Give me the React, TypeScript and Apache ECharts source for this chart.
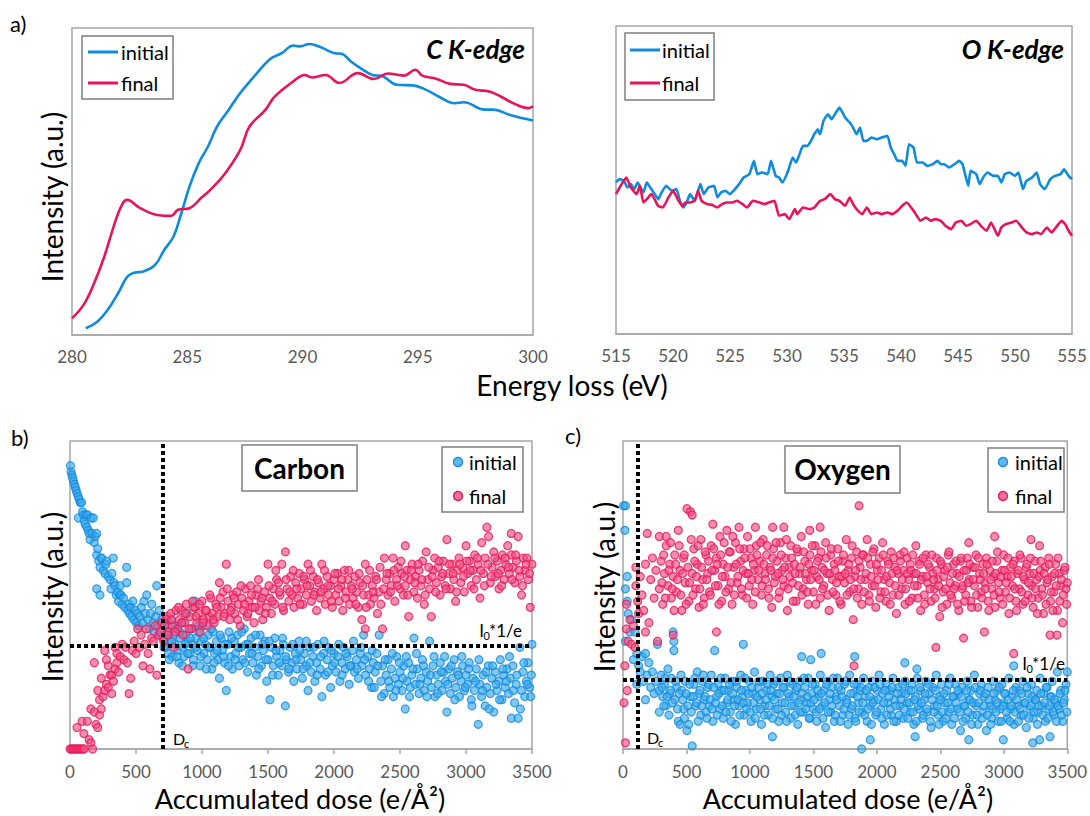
import React, { useEffect, useRef } from "react";
import * as echarts from "echarts";

// ---------- DATA ----------
// a) C K-edge spectra: [energy loss (eV), intensity (a.u., 0-100 of panel)]
const CK_INITIAL = [[280.6,2.2],[281.1,4.3],[281.55,8.2],[282.0,13.6],[282.4,19],[282.7,20.3],[283.1,20.7],[283.6,22.8],[284.0,27.7],[284.4,32],[284.7,38.6],[285.1,48.4],[285.5,56],[285.9,61.4],[286.3,68],[286.8,73.4],[287.3,78.8],[287.9,84.2],[288.6,89.9],[289.1,91.8],[289.6,94.3],[289.9,94],[290.3,94.8],[290.8,93.7],[291.4,91.8],[291.7,91.6],[292.1,89.1],[292.5,87],[293.0,84.8],[293.5,84.2],[294.1,81.5],[294.8,81.3],[295.3,80.1],[295.9,77.7],[296.6,75.5],[297.0,75.8],[297.9,73.4],[298.3,73.4],[299.0,71.7],[300,69.9]];
const CK_FINAL = [[280,5.4],[280.5,9.8],[280.9,15.8],[281.4,25.5],[281.9,37.5],[282.2,42.9],[282.4,44],[282.9,41.6],[283.7,39.1],[284.3,38.8],[284.6,40.8],[285.1,41.3],[285.6,44.6],[286.0,47.3],[286.6,52.2],[287.3,60.3],[287.7,67.9],[288.4,73.4],[288.8,77.7],[289.6,82.6],[290.1,84.7],[290.4,83.9],[291.0,84.7],[291.6,82.1],[292.4,85.3],[293.1,83.4],[293.7,85.2],[294.4,84.5],[294.9,86.4],[295.2,84.5],[295.8,83.5],[296.4,81.8],[297.0,81.5],[297.5,79.9],[298.1,79.3],[298.6,77.7],[299.2,75.3],[299.8,73.9],[300,74.5]];

// a) O K-edge spectra: [energy loss (eV), intensity (a.u.)]
const OK_INITIAL = [[515.0,455],[515.3,465],[515.7,460],[516.0,440],[516.3,450],[516.6,435],[516.9,455],[517.4,425],[517.7,455],[518.0,440],[518.4,420],[518.7,405],[519.0,425],[519.4,445],[519.9,430],[520.3,435],[520.6,400],[520.9,380],[521.2,395],[521.5,420],[521.9,400],[522.4,450],[522.7,420],[523.1,440],[523.6,445],[523.9,410],[524.2,425],[524.6,430],[525.0,420],[525.3,430],[525.8,450],[526.2,470],[526.7,480],[527.1,520],[527.4,480],[527.8,485],[528.3,480],[528.6,520],[529.0,475],[529.3,470],[529.6,455],[530.1,490],[530.5,530],[530.8,515],[531.1,540],[531.4,565],[531.8,565],[532.1,580],[532.4,600],[532.7,615],[532.9,600],[533.2,640],[533.6,660],[533.9,645],[534.2,660],[534.6,680],[535.1,650],[535.5,635],[535.8,620],[536.1,600],[536.4,620],[536.7,580],[537.0,580],[537.4,590],[537.9,585],[538.3,590],[538.8,595],[539.1,560],[539.4,540],[539.7,520],[540.1,520],[540.4,505],[540.7,570],[541.1,560],[541.4,515],[541.9,515],[542.3,505],[542.8,510],[543.2,520],[543.5,510],[543.8,510],[544.2,500],[544.7,510],[545.1,520],[545.4,510],[545.9,445],[546.1,490],[546.6,480],[546.9,450],[547.2,470],[547.6,485],[548.1,475],[548.5,475],[548.8,455],[549.1,480],[549.5,485],[550.0,475],[550.3,485],[550.7,435],[551.0,460],[551.5,470],[551.9,485],[552.2,450],[552.6,435],[553.1,465],[553.5,475],[554.0,480],[554.3,495],[554.7,475],[555.0,465]];
const OK_FINAL = [[515.0,420],[515.4,445],[515.9,470],[516.3,440],[516.8,420],[517.1,445],[517.4,395],[517.7,405],[518.1,420],[518.7,385],[519.1,380],[519.6,410],[520.0,430],[520.5,400],[520.8,385],[521.1,395],[521.5,395],[521.9,400],[522.2,430],[522.5,400],[523.0,390],[523.4,388],[523.9,380],[524.3,390],[524.7,395],[525.2,395],[525.6,400],[526.1,390],[526.5,380],[527.0,400],[527.6,395],[528.0,390],[528.4,395],[528.9,400],[529.3,355],[529.8,360],[530.2,345],[530.7,375],[530.9,360],[531.4,380],[532.0,375],[532.4,380],[532.9,400],[533.3,405],[533.8,420],[534.2,405],[534.6,400],[535.1,385],[535.5,410],[535.8,390],[536.1,375],[536.6,360],[537.0,380],[537.4,360],[537.9,365],[538.3,360],[538.8,365],[539.2,360],[539.7,370],[540.1,385],[540.5,395],[541.0,375],[541.3,360],[541.7,340],[542.2,350],[542.6,340],[543.0,345],[543.5,340],[543.9,325],[544.4,315],[544.8,335],[545.3,340],[545.7,325],[546.1,330],[546.6,340],[547.0,325],[547.5,310],[547.9,335],[548.5,295],[548.8,320],[549.2,330],[549.7,335],[550.1,340],[550.6,320],[551.0,305],[551.5,300],[551.9,305],[552.3,300],[552.8,320],[553.2,305],[553.7,325],[554.1,340],[554.4,330],[554.7,310],[555.0,295]];

// b) Carbon: [accumulated dose (e/Å²), intensity (a.u., 0-100)]
const C_INITIAL = [[3,92],[8,90],[14,89],[20,88],[26,87],[33,86],[40,85],[47,84],[54,83],[62,82],[70,81],[78,80],[63,75],[88,80],[95,77],[101,76],[108,74],[115,73],[120,76],[128,72],[135,76],[139,71],[146,70],[152,68],[160,75],[166,70],[177,75],[184,67],[190,69],[202,70],[202,63],[202,52],[210,65],[218,61],[227,59],[227,50],[234,62],[240,62],[252,58],[265,57],[272,60],[278,61],[290,56],[303,55],[310,52],[318,57],[328,62],[334,54],[341,53],[350,50],[360,51],[368,48],[379,53],[379,50],[386,50],[395,47],[405,49],[415,46],[429,54],[429,59],[438,45],[446,47],[452,44],[460,46],[468,43],[476,48],[485,42],[494,45],[503,41],[512,44],[520,40],[530,43],[540,46],[550,41],[560,48],[570,44],[581,50],[590,42],[600,39],[610,44],[620,47],[630,41],[640,38],[650,43],[657,53],[665,40],[675,45],[685,37],[695,42],
[705,36],[715,40],[725,33],[735,38],[745,31],[755,35],[765,42],[775,30],[785,37],[795,34],[805,39],[815,32],[825,28],[835,36],[845,41],[855,33],[865,30],[875,37],[885,44],[895,35],[905,31],[915,39],[925,34],[935,29],[947,48],[955,36],[965,32],[975,38],[985,27],[995,35],[1005,40],[1015,31],[1025,34],[1040,29],[1050,37],[1060,33],[1075,26],[1085,38],[1095,31],[1110,35],[1120,29],[1132,23],[1145,36],[1155,32],[1170,28],[1184,19],[1195,34],[1205,38],[1220,30],[1230,26],[1245,35],[1255,31],[1270,37],[1280,27],[1295,33],[1310,29],[1320,39],[1335,34],[1345,25],[1360,31],[1372,36],[1385,28],[1400,33],[1412,24],[1425,30],[1440,37],[1450,27],[1465,32],[1478,35],[1490,22],[1500,29],[1515,16],[1525,33],[1540,27],[1552,36],[1565,30],[1578,24],[1590,32],[1605,27],[1615,34],[1632,14],[1640,29],[1655,25],[1668,33],[1680,28],[1695,22],[1708,31],[1720,26],[1735,35],[1748,29],[1760,23],[1775,31],[1790,27],[1803,19],[1815,33],[1828,25],[1840,30],[1855,22],[1868,28],[1880,34],[1895,26],[1908,17],[1920,31],[1935,24],[1948,29],[1960,33],[1974,20],[1988,27],[2000,31],[2015,25],[2030,30],[2045,22],[2060,28],[2072,33],[2085,26],[2100,30],[2115,21],[2128,27],[2140,32],[2155,25],[2170,29],[2185,23],[2200,31],[2212,27],[2224,37],[2240,24],[2255,30],[2270,26],[2285,20],[2298,28],
[712,33],[731,41],[752,29],[771,35],[792,40],[811,30],[832,38],[852,27],[871,34],[892,31],[912,36],[931,27],[952,33],[972,40],[992,30],[1012,36],[1032,26],[1055,33],[1072,39],[1092,28],[1115,32],[1138,37],[1162,30],[1178,34],[1200,27],[1225,36],[1250,29],[1275,33],[1300,38],[1325,28],[1350,34],[1378,31],[1405,37],[1430,26],[1458,34],[1485,29],[1510,35],[1535,24],[1560,32],[1585,28],[1610,36],[1635,30],[1660,26],[1688,34],[1712,29],[1740,32],[1765,26],[1790,35],[1818,28],[1845,33],[1872,24],[1900,30],[1925,35],[1952,25],[1980,32],[2005,28],[2035,34],[2062,24],[2090,31],[2120,27],[2148,35],[2175,26],[2205,33],[2232,29],[2262,22],[2290,32],
[2312,25],[2325,31],[2342,37],[2355,22],[2368,27],[2380,18],[2395,24],[2410,29],[2422,20],[2435,26],[2450,17],[2462,23],[2475,30],[2488,21],[2500,25],[2515,19],[2528,27],[2540,13],[2552,22],[2565,28],[2578,20],[2590,24],[2606,36],[2618,21],[2630,26],[2645,18],[2658,23],[2670,29],[2685,19],[2698,25],[2710,22],[2724,35],[2738,20],[2750,27],[2765,17],[2778,24],[2790,21],[2805,28],[2818,19],[2830,25],[2845,22],[2855,12],[2870,26],[2882,18],[2895,23],[2910,29],[2922,20],[2935,25],[2950,17],[2962,22],[2975,27],[2988,19],[3000,24],[3012,21],[3025,28],[3040,16],[3052,23],[3065,19],[3078,26],[3093,8],[3105,21],[3118,17],[3130,24],[3145,14],[3158,20],[3170,27],[3184,18],[3196,23],[3210,12],[3222,25],[3235,19],[3248,22],[3260,29],[3272,16],[3285,24],[3298,20],[3310,26],[3322,18],[3335,23],[3343,10],[3355,27],[3368,15],[3380,21],[3395,10],[3408,33],[3420,19],[3432,25],[3445,17],[3458,22],[3470,28],[3482,20],[3495,24],[3500,34],
[2305,20],[2332,27],[2360,17],[2388,29],[2415,22],[2442,31],[2470,19],[2495,28],[2522,23],[2548,30],[2572,17],[2598,26],[2625,31],[2650,21],[2678,27],[2704,17],[2730,24],[2758,30],[2785,18],[2812,25],[2838,30],[2862,21],[2888,27],[2915,16],[2942,24],[2968,30],[2995,20],[3020,26],[3045,14],[3072,22],[3098,29],[3125,19],[3150,25],[3176,13],[3202,27],[3228,21],[3254,16],[3280,26],[3306,22],[3330,30],[3358,19],[3385,24],[3412,13],[3438,28],[3465,21],[3490,17]];
const C_FINAL = [[0,0],[12,0],[24,0],[36,0],[48,0],[60,0],[72,0],[84,0],[96,0],[108,0],[53,7],[92,9],[105,5],[131,9],[145,3],[158,2],[171,0],[158,13],[184,12],[197,8],[210,7],[224,11],[237,13],[210,19],[224,16],[250,17],[263,19],[237,23],[276,21],[290,20],[303,24],[316,18],[316,24],[329,22],[342,26],[355,28],[368,25],[184,28],[263,32],[276,29],[290,27],[342,33],[355,31],[381,30],[395,34],[408,29],[421,33],[434,28],[447,18],[460,23],[473,32],[486,35],[500,31],[513,39],[526,33],[539,37],[553,27],[566,34],[579,39],[592,31],[605,26],[618,36],[632,35],[645,40],[658,24],[671,37],[684,38],[697,41],[710,35],[724,42],[737,43],[750,38],[763,44],[776,40],[790,33],[803,45],[816,39],[829,42],[842,45],[855,37],[868,41],[882,47],[895,26],[908,43],[921,39],[934,46],[947,46],[960,41],[973,44],[986,38],[1000,48],[1013,42],[1026,45],[1039,40],[1053,43],[1066,49],[1079,44],[1092,41],[1105,47],[1118,43],[1132,54],[1145,46],[1158,51],[1171,44],[1184,60],[1197,48],[1210,42],[1223,46],[1236,50],[1250,44],[1263,51],[1276,47],[1289,40],[1302,49],[1315,45],[1328,52],[1342,43],[1355,48],[1368,53],[1381,46],[1394,41],[1408,50],[1421,52],[1434,45],[1447,48],[1460,42],[1474,51],[1487,46],[1500,60],[1513,49],[1526,44],[1539,52],[1552,47],[1565,55],[1579,54],[1592,50],[1605,60],[1618,45],[1632,64],[1645,52],[1658,48],[1671,56],[1684,50],[1697,46],[1710,54],[1724,49],[1737,57],[1750,52],[1763,47],[1776,55],[1790,50],[1803,60],[1816,53],[1829,48],[1842,56],[1855,51],[1868,45],[1882,54],[1895,49],[1908,60],[1921,52],[1934,47],[1947,56],[1960,50],[1974,53],[1987,46],[2000,55],[2013,50],[2026,57],[2039,48],[2052,53],[2066,45],[2079,58],[2092,51],[2105,55],[2118,47],[2132,53],[2145,49],[2158,56],[2171,51],[2184,46],[2197,54],[2211,42],[2224,50],[2237,60],[2237,39],[2250,55],[2263,50],[2276,47],[2290,53],[2303,49],[2316,56],[2329,44],[2342,51],[2355,47],[2368,39],[2382,62],[2395,55],[2408,50],[2421,57],[2434,53],[2448,62],[2461,48],[2474,55],[2487,59],[2500,52],[2513,57],[2526,50],[2540,66],[2540,53],[2553,58],[2566,43],[2579,55],[2592,60],[2605,51],[2618,56],[2632,49],[2645,58],[2658,53],[2671,61],[2684,47],[2698,64],[2711,55],[2724,52],[2737,43],[2750,58],[2763,62],[2776,54],[2790,59],[2803,50],[2816,56],[2829,61],[2842,53],[2855,68],[2868,57],[2882,52],[2895,60],[2908,55],[2921,48],[2934,58],[2947,62],[2961,54],[2974,59],[2987,51],[3000,66],[3013,57],[3026,61],[3039,53],[3053,58],[3066,63],[3079,55],[3092,60],[3106,49],[3119,67],[3132,57],[3145,62],[3158,72],[3171,69],[3184,54],[3197,59],[3210,64],[3224,56],[3237,61],[3250,52],[3263,58],[3276,63],[3289,55],[3302,60],[3316,66],[3329,57],[3343,70],[3343,63],[3356,59],[3369,54],[3382,61],[3395,69],[3408,56],[3421,50],[3434,62],[3447,58],[3461,62],[3474,55],[3487,46],[3500,60],
[717,40],[743,37],[769,42],[796,38],[822,46],[848,41],[875,44],[901,39],[928,48],[954,43],[980,47],[1006,41],[1033,45],[1059,50],[1086,42],[1112,46],[1138,49],[1165,43],[1191,52],[1217,45],[1243,49],[1270,42],[1296,53],[1322,47],[1348,44],[1375,50],[1401,46],[1428,55],[1454,49],[1480,44],[1507,53],[1533,48],[1559,58],[1586,51],[1612,46],[1638,55],[1664,51],[1691,58],[1717,52],[1743,47],[1770,56],[1796,53],[1822,58],[1849,50],[1875,55],[1901,51],[1928,58],[1954,53],[1980,48],[2007,57],[2033,52],[2059,55],[2086,49],[2112,58],[2138,52],[2165,47],[2191,57],[2217,53],[2244,46],[2270,58],[2296,51],[2322,55],[2349,59],[2375,52],[2401,57],[2428,51],[2454,58],[2480,53],[2507,61],[2533,56],[2559,50],[2586,58],[2612,54],[2638,60],[2665,55],[2691,50],[2717,59],[2744,56],[2770,51],[2796,61],[2823,57],[2849,52],[2875,60],[2902,57],[2928,51],[2954,60],[2981,56],[3007,61],[3033,58],[3060,52],[3086,62],[3112,58],[3139,53],[3165,60],[3191,56],[3218,62],[3244,57],[3270,53],[3297,62],[3323,59],[3349,55],[3376,63],[3402,58],[3428,53],[3455,60],[3481,57]];

// c) Oxygen: [accumulated dose (e/Å²), intensity (a.u., 0-100)]
const O_INITIAL = [[5,79],[14,71],[19,79],[33,56],[19,52],[33,48],[41,44],[54,38],[68,42],[19,35],[82,29],[95,38],[109,31],[109,21],[123,27],[136,25],[150,30],[163,22],[177,31],[177,16],[190,24],[204,28],[218,20],[232,25],[245,18],[259,22],[272,34],[286,12],[286,19],[300,24],[313,17],[327,21],[340,14],[354,26],[368,18],[381,23],[395,38],[401,35],[401,32],[408,16],[422,20],[436,9],[450,8],[463,19],[477,13],[490,22],[504,6],[518,8],[531,17],[545,1],[558,21],[572,14],[585,25],[599,18],[613,11],[626,22],[640,16],[654,12],[667,20],[681,14],[695,24],[708,9],[722,32],[736,17],[749,21],[763,13],[777,19],[790,10],[804,23],[818,15],[831,19],[845,12],[859,22],[872,16],[886,8],[899,20],[913,14],[927,24],[940,17],[948,34],[954,11],[968,19],[981,15],[995,22],[1009,9],[1022,18],[1036,25],[1050,13],[1063,20],[1077,16],[1091,8],[1104,22],[1118,14],[1131,19],[1145,11],[1159,24],[1172,17],[1177,4],[1186,21],[1200,13],[1213,18],[1227,9],[1241,23],[1254,15],[1268,20],[1281,12],[1295,24],[1309,17],[1322,10],[1336,21],[1350,14],[1363,19],[1377,8],[1391,22],[1404,16],[1408,30],[1418,12],[1432,20],[1445,15],[1459,23],[1473,10],[1479,29],[1486,18],[1500,13],[1514,21],[1527,9],[1541,17],[1555,24],[1561,31],[1568,14],[1582,19],[1596,7],[1609,22],[1623,16],[1636,12],[1650,20],[1664,9],[1677,17],[1691,23],[1705,14],[1718,19],[1732,11],[1745,21],[1759,16],[1773,8],[1786,24],[1800,13],[1814,18],[1825,30],[1827,10],[1841,21],[1855,15],[1868,19],[1880,0],[1882,12],[1895,23],[1909,17],[1923,9],[1936,20],[1948,3],[1950,14],[1963,22],[1977,16],[1991,11],[2004,19],[2018,24],[2032,13],[2045,18],[2059,8],[2072,21],[2086,15],[2100,19],[2113,11],[2127,23],[2141,16],[2154,9],[2168,20],[2182,14],[2195,18],[2209,10],[2220,28],[2222,22],[2236,15],[2250,19],[2263,12],[2277,21],[2291,8],[2302,4],[2304,17],[2315,26],[2318,23],[2332,13],[2345,19],[2359,10],[2373,16],[2386,22],[2400,12],[2414,18],[2427,7],[2441,20],[2454,14],[2468,24],[2482,11],[2495,17],[2509,21],[2522,9],[2536,15],[2550,19],[2563,12],[2577,23],[2590,8],[2604,17],[2618,21],[2631,13],[2645,18],[2659,6],[2672,20],[2686,14],[2700,10],[2713,22],[2724,3],[2727,16],[2740,19],[2754,11],[2768,24],[2781,14],[2795,8],[2809,18],[2822,21],[2836,12],[2849,17],[2863,6],[2877,20],[2890,14],[2904,10],[2918,22],[2931,16],[2945,19],[2958,9],[2972,13],[2986,21],[2996,3],[2999,15],[3013,18],[3027,10],[3040,23],[3054,13],[3068,17],[3078,27],[3081,8],[3095,20],[3108,14],[3122,19],[3136,11],[3149,22],[3163,15],[3177,7],[3190,18],[3204,13],[3218,21],[3228,2],[3231,10],[3245,16],[3259,19],[3272,12],[3282,3],[3286,23],[3299,14],[3313,18],[3327,9],[3340,20],[3354,13],[3364,4],[3368,17],[3381,22],[3395,11],[3408,15],[3422,25],[3436,13],[3449,19],[3463,9],[3476,16],[3490,21],[3500,25],
[307,20],[321,14],[334,23],[348,17],[362,11],[375,19],[389,15],[415,22],[429,13],[443,18],[457,24],[470,16],[484,10],[497,18],[511,14],[525,21],[538,12],[552,17],[565,23],[579,15],[592,9],[606,19],[620,14],[633,24],[647,17],[661,10],[674,21],[688,16],[701,13],[715,20],[729,15],[742,11],[756,18],[770,23],[783,14],[797,19],[811,12],[824,16],[838,21],[852,9],[865,18],[879,14],[893,22],[906,16],[920,11],[933,19],[947,15],[961,23],[974,13],[988,18],[1002,12],[1015,20],[1029,15],[1043,10],[1056,17],[1070,22],[1084,13],[1097,18],[1111,11],[1125,16],[1138,21],[1152,14],[1166,19],[1179,10],[1193,16],[1207,22],[1220,13],[1234,18],[1248,11],[1261,20],[1275,15],[1289,9],[1302,18],[1316,22],[1329,14],[1343,17],[1357,11],[1370,20],[1384,15],[1398,12],[1411,18],[1425,23],[1439,13],[1452,17],[1466,10],[1480,15],[1493,21],[1507,16],[1521,12],[1534,19],[1548,13],[1562,18],[1575,10],[1589,15],[1603,21],[1616,12],[1630,18],[1644,14],[1657,23],[1671,11],[1684,16],[1698,20],[1712,9],[1725,17],[1739,13],[1753,22],[1766,15],[1780,11],[1794,18],[1807,14],[1821,21],[1834,9],[1848,17],[1862,12],[1875,20],[1889,15],[1903,11],[1916,19],[1930,13],[1944,17],[1957,8],[1971,15],[1984,20],[1998,12],[2012,16],[2025,21],[2039,10],[2053,15],[2066,19],[2080,11],[2094,17],[2107,13],[2121,20],[2134,9],[2148,14],[2162,18],[2175,11],[2189,16],[2203,21],[2216,13],[2230,18],[2244,10],[2257,15],[2271,19],[2284,12],[2298,16],[2311,9],[2325,14],[2339,20],[2352,15],[2366,11],[2380,18],[2393,13],[2407,21],[2421,9],[2434,16],[2448,12],[2461,19],[2475,14],[2489,8],[2502,16],[2516,12],[2529,18],[2543,10],[2557,15],[2570,21],[2584,13],[2598,17],[2611,10],[2625,15],[2638,19],[2652,12],[2666,17],[2679,9],[2693,14],[2707,19],[2720,12],[2734,16],[2747,8],[2761,15],[2775,20],[2788,11],[2802,15],[2815,19],[2829,10],[2843,14],[2856,18],[2870,11],[2884,16],[2897,8],[2911,13],[2924,18],[2938,12],[2952,15],[2965,20],[2979,9],[2993,14],[3006,18],[3020,12],[3033,16],[3047,9],[3061,14],[3074,19],[3088,12],[3101,16],[3115,9],[3129,13],[3142,18],[3156,11],[3170,15],[3183,20],[3197,10],[3211,14],[3224,17],[3238,12],[3251,16],[3265,8],[3279,14],[3292,18],[3306,11],[3320,15],[3333,20],[3347,10],[3361,14],[3374,17],[3388,12],[3402,16],[3415,9],[3429,14],[3443,18],[3456,11],[3470,15],[3483,19],[3497,12]];
const O_FINAL = [[8,15],[14,27],[19,2],[27,39],[27,47],[33,19],[41,35],[54,42],[68,34],[82,40],[95,33],[101,53],[101,59],[115,48],[123,44],[136,56],[150,50],[163,45],[177,38],[177,60],[191,70],[204,41],[218,55],[232,62],[245,49],[259,58],[272,35],[286,69],[286,52],[300,61],[313,47],[327,57],[340,66],[340,69],[354,53],[368,60],[381,49],[395,37],[395,56],[408,63],[422,51],[436,71],[449,58],[463,45],[477,62],[490,54],[504,78],[518,48],[531,77],[545,76],[545,57],[558,65],[572,52],[585,60],[599,46],[613,68],[626,55],[640,49],[654,63],[667,57],[681,51],[695,66],[708,73],[722,58],[736,38],[736,62],[749,53],[763,69],[777,48],[790,60],[804,56],[818,71],[831,52],[845,64],[859,47],[872,59],[886,67],[899,54],[913,72],[927,61],[940,50],[954,65],[968,57],[981,69],[995,53],[1009,62],[1022,47],[1036,58],[1043,72],[1050,66],[1063,55],[1077,61],[1091,50],[1104,68],[1118,57],[1131,63],[1145,52],[1159,59],[1172,46],[1179,72],[1186,65],[1200,56],[1213,61],[1227,49],[1241,67],[1254,58],[1267,72],[1268,53],[1281,62],[1295,45],[1309,59],[1322,66],[1336,54],[1350,60],[1363,48],[1377,64],[1391,57],[1404,69],[1418,52],[1432,61],[1445,55],[1459,47],[1471,71],[1473,63],[1486,58],[1500,51],[1514,66],[1527,56],[1541,62],[1553,72],[1555,49],[1568,59],[1582,53],[1596,67],[1609,57],[1623,45],[1636,63],[1650,55],[1664,60],[1677,50],[1691,65],[1705,56],[1718,47],[1732,61],[1745,54],[1759,68],[1773,58],[1786,51],[1800,62],[1814,42],[1820,27],[1827,56],[1841,64],[1855,52],[1860,79],[1868,59],[1882,47],[1895,63],[1909,55],[1923,68],[1936,50],[1950,60],[1963,53],[1977,65],[1991,46],[2004,58],[2018,62],[2032,51],[2045,67],[2059,55],[2072,48],[2086,61],[2100,54],[2113,64],[2127,50],[2141,59],[2154,44],[2168,57],[2182,63],[2195,52],[2209,58],[2222,47],[2236,62],[2250,55],[2263,60],[2277,49],[2291,57],[2307,66],[2318,53],[2332,61],[2345,45],[2359,56],[2373,50],[2386,63],[2400,54],[2414,59],[2427,48],[2441,57],[2454,52],[2465,33],[2468,62],[2482,55],[2495,43],[2509,60],[2522,51],[2536,58],[2550,47],[2563,63],[2577,54],[2590,49],[2604,60],[2618,53],[2631,57],[2645,45],[2659,61],[2672,52],[2683,36],[2686,58],[2700,50],[2713,62],[2724,67],[2727,55],[2740,48],[2754,59],[2768,53],[2781,63],[2795,46],[2809,57],[2822,51],[2836,60],[2847,38],[2849,54],[2863,62],[2877,48],[2890,58],[2904,52],[2918,56],[2928,69],[2931,46],[2945,61],[2958,54],[2972,49],[2986,58],[2999,63],[3013,51],[3027,56],[3040,44],[3054,59],[3068,53],[3078,31],[3081,61],[3095,48],[3108,57],[3122,52],[3136,62],[3149,47],[3163,55],[3177,59],[3190,50],[3204,57],[3214,68],[3218,53],[3231,46],[3245,61],[3259,55],[3272,49],[3282,66],[3286,58],[3299,52],[3313,44],[3327,59],[3340,54],[3354,62],[3364,37],[3368,48],[3381,56],[3395,51],[3408,60],[3419,37],[3422,45],[3436,57],[3449,53],[3463,41],[3476,58],[3490,52],[3500,54],
[307,54],[320,63],[334,49],[361,58],[375,67],[388,52],[402,45],[415,60],[429,55],[443,66],[456,50],[470,57],[483,63],[497,47],[511,59],[524,54],[538,68],[551,50],[565,61],[579,56],[592,66],[606,52],[619,59],[633,47],[647,64],[660,55],[674,61],[688,50],[701,58],[715,65],[728,53],[742,60],[756,47],[769,63],[783,56],[797,67],[810,51],[824,59],[837,64],[851,54],[865,69],[878,50],[892,60],[905,56],[919,65],[933,52],[946,58],[960,62],[974,49],[987,57],[1001,65],[1014,55],[1028,60],[1042,51],[1055,63],[1069,58],[1083,67],[1096,53],[1110,60],[1123,55],[1137,66],[1151,49],[1164,58],[1178,62],[1192,54],[1205,67],[1219,57],[1232,51],[1246,63],[1260,55],[1273,59],[1287,68],[1301,52],[1314,56],[1328,62],[1341,48],[1355,57],[1369,65],[1382,53],[1396,59],[1410,50],[1423,64],[1437,57],[1451,51],[1464,60],[1478,55],[1491,66],[1505,58],[1519,47],[1532,61],[1546,55],[1560,64],[1573,52],[1587,58],[1600,62],[1614,50],[1628,57],[1641,65],[1655,51],[1669,58],[1682,54],[1696,61],[1709,48],[1723,56],[1737,63],[1750,57],[1764,50],[1778,60],[1791,55],[1805,66],[1818,52],[1832,58],[1846,49],[1859,61],[1873,55],[1887,63],[1900,51],[1914,57],[1928,62],[1941,48],[1955,56],[1968,64],[1982,53],[1996,60],[2009,55],[2023,49],[2037,58],[2050,63],[2064,51],[2077,56],[2091,60],[2105,47],[2118,57],[2132,62],[2146,53],[2159,58],[2173,50],[2186,61],[2200,55],[2214,64],[2227,52],[2241,57],[2255,48],[2268,58],[2282,63],[2296,53],[2309,57],[2323,49],[2336,60],[2350,55],[2364,62],[2377,47],[2391,56],[2405,60],[2418,52],[2432,63],[2446,55],[2459,49],[2473,58],[2486,53],[2500,61],[2514,46],[2527,56],[2541,52],[2555,59],[2568,64],[2582,50],[2596,57],[2609,52],[2623,61],[2636,47],[2650,56],[2664,62],[2677,53],[2691,48],[2705,58],[2718,54],[2732,60],[2746,46],[2759,55],[2773,59],[2786,50],[2800,62],[2814,55],[2827,49],[2841,57],[2855,52],[2868,60],[2882,45],[2896,55],[2909,61],[2923,50],[2936,57],[2950,64],[2964,51],[2977,56],[2991,47],[3005,58],[3018,54],[3032,62],[3046,49],[3059,56],[3073,60],[3086,52],[3100,45],[3114,58],[3127,63],[3141,51],[3154,56],[3168,48],[3182,60],[3195,54],[3209,62],[3223,49],[3236,57],[3250,52],[3264,44],[3277,56],[3291,61],[3304,50],[3318,57],[3332,47],[3345,55],[3359,60],[3373,51],[3386,45],[3400,57],[3413,53],[3427,62],[3441,48],[3454,55],[3468,50],[3482,59],[3495,47]];

// reference lines: critical dose Dc and I0*1/e level
const C_DC = 700;
const C_LEVEL = 33.4;
const O_DC = 115;
const O_LEVEL = 22.6;

// axis ranges / ticks
const CK_RANGE = [280, 300];
const OK_RANGE = [515, 555];
const DOSE_RANGE = [0, 3500];
const SPEC_TICK = 5;
const DOSE_TICK = 500;

const SERIES_NAMES = ["initial", "final"];

// ---------- STYLE ----------
const FONT = 'Lato, "Open Sans", "DejaVu Sans", sans-serif';
const BLUE = "#0E8BDD";
const RED = "#E8145A";
const BLUE_FILL = "rgba(60,168,234,0.8)";
const RED_FILL = "rgba(240,78,126,0.8)";
const FRAME = "#A6A6A6";
const LABEL = "#595959";

function text(x: number, y: number, t: string, o: any = {}) {
  return {
    type: "text",
    x,
    y,
    rotation: o.rotation || 0,
    silent: true,
    z: 100,
    style: {
      text: t,
      fontFamily: FONT,
      fontSize: o.size || 20,
      fontWeight: o.weight || "normal",
      fontStyle: o.style || "normal",
      fill: o.fill || "#000",
      align: o.align || "left",
      verticalAlign: o.va || "middle",
    },
  };
}
function box(x: number, y: number, w: number, h: number) {
  return {
    type: "rect",
    silent: true,
    z: 99,
    shape: { x, y, width: w, height: h },
    style: { fill: "#fff", stroke: "#7F7F7F", lineWidth: 1.5 },
  };
}
function seg(x1: number, y1: number, x2: number, y2: number, color: string) {
  return { type: "line", silent: true, z: 100, shape: { x1, y1, x2, y2 }, style: { stroke: color, lineWidth: 3 } };
}
function dot(cx: number, cy: number, fill: string, stroke: string) {
  return { type: "circle", silent: true, z: 100, shape: { cx, cy, r: 4.5 }, style: { fill, stroke, lineWidth: 1.3 } };
}

function xAxis(gridIndex: number, range: number[], interval: number, ticks: boolean) {
  return {
    gridIndex,
    type: "value",
    min: range[0],
    max: range[1],
    interval,
    axisLine: { show: true, onZero: false, lineStyle: { color: FRAME, width: 1.5 } },
    axisTick: { show: ticks, length: 5, inside: false, lineStyle: { color: FRAME, width: 1.5 } },
    splitLine: { show: false },
    axisLabel: {
      color: LABEL,
      fontSize: 17,
      fontFamily: FONT,
      margin: ticks ? 14 : 13,
      showMaxLabel: true,
      showMinLabel: true,
      formatter: (v: number) => String(v),
    },
  };
}
function yAxis(gridIndex: number, max: number) {
  return { gridIndex, type: "value", min: 0, max, show: false, splitLine: { show: false } };
}
function spectrum(name: string, data: number[][], color: string, idx: number) {
  return {
    name,
    type: "line",
    xAxisIndex: idx,
    yAxisIndex: idx,
    data,
    showSymbol: false,
    smooth: idx === 0 ? 0.4 : 0.15,
    lineStyle: { color, width: 2.6 },
    itemStyle: { color },
    silent: true,
  };
}
function cloud(name: string, data: number[][], fill: string, stroke: string, idx: number, mark?: any) {
  const s: any = {
    name,
    type: "scatter",
    xAxisIndex: idx,
    yAxisIndex: idx,
    data,
    symbol: "circle",
    symbolSize: 8,
    clip: false,
    silent: true,
    itemStyle: { color: fill, borderColor: stroke, borderWidth: 1.2 },
  };
  if (mark) {
    s.markLine = {
      silent: true,
      symbol: ["none", "none"],
      label: { show: false },
      z: 10,
      lineStyle: { color: "#000", width: 4, type: [4, 3], cap: "butt" },
      data: [{ xAxis: mark.dc }, { yAxis: mark.level }],
    };
  }
  return s;
}

const grid = (left: number, top: number, width: number, height: number) => ({
  left,
  top,
  width,
  height,
  show: true,
  borderColor: FRAME,
  borderWidth: 1.5,
  backgroundColor: "transparent",
});

export default function App() {
  const ref = useRef<HTMLDivElement>(null);
  useEffect(() => {
    if (!ref.current) return;
    const chart = echarts.init(ref.current, null, { renderer: "svg" });
    const option: any = {
      animation: false,
      backgroundColor: "#fff",
      textStyle: { fontFamily: FONT },
      grid: [grid(72, 28, 461, 307), grid(616, 26, 456, 308), grid(70, 441, 462, 308), grid(623, 441, 448, 308)],
      xAxis: [
        xAxis(0, CK_RANGE, SPEC_TICK, false),
        xAxis(1, OK_RANGE, SPEC_TICK, false),
        xAxis(2, DOSE_RANGE, DOSE_TICK, true),
        xAxis(3, DOSE_RANGE, DOSE_TICK, true),
      ],
      yAxis: [yAxis(0, 100), yAxis(1, 925), yAxis(2, 100), yAxis(3, 100)],
      series: [
        spectrum(SERIES_NAMES[0], CK_INITIAL, BLUE, 0),
        spectrum(SERIES_NAMES[1], CK_FINAL, RED, 0),
        spectrum(SERIES_NAMES[0], OK_INITIAL, BLUE, 1),
        spectrum(SERIES_NAMES[1], OK_FINAL, RED, 1),
        cloud(SERIES_NAMES[0], C_INITIAL, BLUE_FILL, BLUE, 2),
        cloud(SERIES_NAMES[1], C_FINAL, RED_FILL, RED, 2, { dc: C_DC, level: C_LEVEL }),
        cloud(SERIES_NAMES[0], O_INITIAL, BLUE_FILL, BLUE, 3),
        cloud(SERIES_NAMES[1], O_FINAL, RED_FILL, RED, 3, { dc: O_DC, level: O_LEVEL }),
      ],
      graphic: [
        // panel letters
        text(10, 23, "a)", { size: 22 }),
        text(11, 437, "b)", { size: 22 }),
        text(565, 435, "c)", { size: 22 }),
        // axis titles
        text(52, 197, "Intensity (a.u.)", { size: 28, align: "center", rotation: Math.PI / 2 }),
        text(572, 385, "Energy loss (eV)", { size: 28, align: "center" }),
        text(52, 597, "Intensity (a.u.)", { size: 28, align: "center", rotation: Math.PI / 2 }),
        text(604, 587, "Intensity (a.u.)", { size: 28, align: "center", rotation: Math.PI / 2 }),
        text(300, 798, "Accumulated dose (e/Å²)", { size: 27, align: "center" }),
        text(848, 798, "Accumulated dose (e/Å²)", { size: 27, align: "center" }),
        // spectra titles
        text(525, 49, "C K-edge", { size: 26, weight: "bold", style: "italic", align: "right" }),
        text(1064, 49, "O K-edge", { size: 26, weight: "bold", style: "italic", align: "right" }),
        // spectra legends
        box(82, 36, 91, 63),
        seg(88, 52, 118, 52, BLUE),
        seg(88, 83, 118, 83, RED),
        text(121, 52, SERIES_NAMES[0], { size: 20 }),
        text(121, 83, SERIES_NAMES[1], { size: 20 }),
        box(625, 33, 89, 67),
        seg(630, 50, 660, 50, BLUE),
        seg(630, 83, 660, 83, RED),
        text(662, 50, SERIES_NAMES[0], { size: 20 }),
        text(662, 83, SERIES_NAMES[1], { size: 20 }),
        // element boxes
        box(242, 445, 115, 46),
        text(299.5, 468, "Carbon", { size: 28, weight: "bold", align: "center" }),
        box(785, 446, 115, 47),
        text(842.5, 469, "Oxygen", { size: 28, weight: "bold", align: "center" }),
        // scatter legends
        box(442, 447, 81, 65),
        dot(458, 462, BLUE_FILL, BLUE),
        dot(458, 496, RED_FILL, RED),
        text(469, 462, SERIES_NAMES[0], { size: 20 }),
        text(469, 496, SERIES_NAMES[1], { size: 20 }),
        box(988, 448, 76, 64),
        dot(1003, 462, BLUE_FILL, BLUE),
        dot(1003, 496, RED_FILL, RED),
        text(1015, 462, SERIES_NAMES[0], { size: 20 }),
        text(1015, 496, SERIES_NAMES[1], { size: 20 }),
        // Dc labels
        text(173, 738, "D", { size: 16 }),
        text(184, 743, "c", { size: 11 }),
        text(647, 737, "D", { size: 16 }),
        text(658, 742, "c", { size: 11 }),
        // I0*1/e labels
        text(522, 630, "*1/e", { size: 17, align: "right" }),
        text(490, 635, "0", { size: 11, align: "right" }),
        text(484, 630, "I", { size: 17, align: "right" }),
        text(1065, 663, "*1/e", { size: 17, align: "right" }),
        text(1033, 668, "0", { size: 11, align: "right" }),
        text(1027, 663, "I", { size: 17, align: "right" }),
      ],
    };
    chart.setOption(option);
    return () => chart.dispose();
  }, []);
  return <div ref={ref} style={{ position: "absolute", left: 0, top: 0, width: 1090, height: 816 }} />;
}
